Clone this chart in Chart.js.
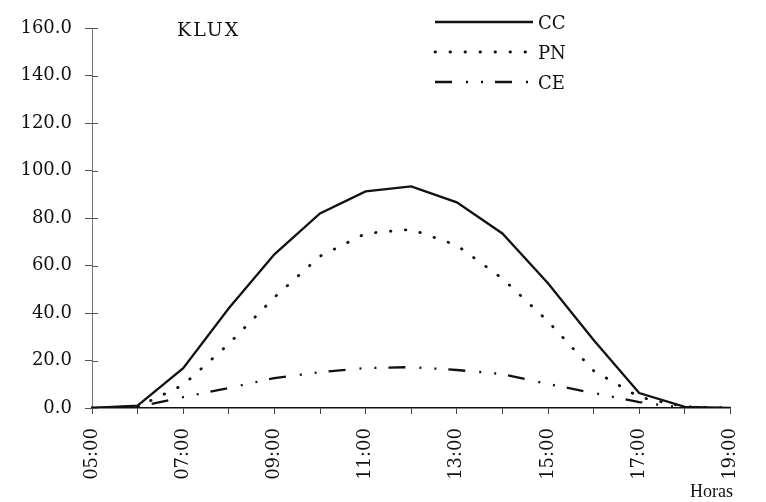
<!DOCTYPE html>
<html>
<head>
<meta charset="utf-8">
<script src="https://cdn.jsdelivr.net/npm/chart.js@4.4.1/dist/chart.umd.min.js"></script>
<style>
  html, body { margin: 0; padding: 0; background: #ffffff; }
  #wrap { width: 766px; height: 502px; position: relative; }
</style>
</head>
<body>
<div id="wrap"><canvas id="c" width="766" height="502"></canvas></div>
<script>
// ---- data ----
const hours = ["05:00","06:00","07:00","08:00","09:00","10:00","11:00","12:00","13:00","14:00","15:00","16:00","17:00","18:00","19:00"];
const ccValues = [0, 1, 16.8, 42, 64.7, 81.9, 91.2, 93.3, 86.6, 73.5, 52.5, 28.6, 6.3, 0.5, 0];
const pnValues = [0, 0.5, 9.7, 27, 46.6, 63.9, 73.5, 75.2, 68.5, 54.5, 36.5, 15.7, 4.6, 0.5, 0];
const ceValues = [0, 0.5, 4.6, 8.4, 12.6, 15.1, 16.8, 17.2, 16.0, 14.3, 10.1, 6.3, 2.5, 0, 0];
const seriesNames = ["CC", "PN", "CE"];
const yTicks = [0, 20, 40, 60, 80, 100, 120, 140, 160];
const unitLabel = "KLUX";
const xAxisLabel = "Horas";

const INK = "#111111";
const dashes = { CC: [], PN: [0.5, 14.5], CE: [17, 14, 2, 13, 2, 12] };
const caps = { CC: "butt", PN: "round", CE: "butt" };
const widths = { CC: 2.3, PN: 2.8, CE: 2.3 };

const tickFont = { family: "'DejaVu Serif', serif", size: 18 };

const decor = {
  id: "decor",
  afterDraw(chart) {
    const ctx = chart.ctx;
    const ys = chart.scales.y;
    const area = chart.chartArea;
    ctx.save();
    // right half of the "+" tick marks on the y axis
    ctx.strokeStyle = "#555";
    ctx.lineWidth = 1;
    yTicks.forEach(v => {
      const py = Math.round(ys.getPixelForValue(v)) + 0.5;
      ctx.beginPath();
      ctx.moveTo(area.left, py);
      ctx.lineTo(area.left + 6, py);
      ctx.stroke();
    });
    // unit label
    ctx.fillStyle = INK;
    ctx.font = "19px 'DejaVu Serif', serif";
    ctx.textBaseline = "middle";
    ctx.textAlign = "left";
    try { ctx.letterSpacing = "2px"; } catch (e) {}
    ctx.fillText(unitLabel, 177, 31);
    try { ctx.letterSpacing = "0px"; } catch (e) {}
    // axis name
    ctx.font = "18px 'Liberation Serif', serif";
    ctx.fillText(xAxisLabel, 690, 492);
    // legend
    const legendY = [22, 52, 82];
    chart.data.datasets.forEach((ds, i) => {
      ctx.save();
      ctx.strokeStyle = ds.borderColor;
      ctx.lineWidth = ds.borderWidth;
      ctx.lineCap = ds.borderCapStyle || "butt";
      ctx.setLineDash(ds.borderDash || []);
      ctx.beginPath();
      ctx.moveTo(435, legendY[i]);
      ctx.lineTo(533, legendY[i]);
      ctx.stroke();
      ctx.restore();
      ctx.fillStyle = INK;
      ctx.font = "18px 'DejaVu Serif', serif";
      ctx.textBaseline = "middle";
      ctx.textAlign = "left";
      ctx.fillText(ds.label, 538, legendY[i] + 2);
    });
    ctx.restore();
  }
};

const makeDs = (name, values) => ({
  label: name,
  data: values,
  borderColor: INK,
  backgroundColor: INK,
  borderWidth: widths[name],
  borderDash: dashes[name],
  borderCapStyle: caps[name],
  pointRadius: 0,
  tension: 0,
  fill: false
});

new Chart(document.getElementById("c"), {
  type: "line",
  data: {
    labels: hours,
    datasets: [
      makeDs(seriesNames[0], ccValues),
      makeDs(seriesNames[1], pnValues),
      makeDs(seriesNames[2], ceValues)
    ]
  },
  options: {
    responsive: false,
    animation: false,
    devicePixelRatio: 1,
    layout: { padding: { top: 28, right: 35, bottom: 0, left: 0 } },
    plugins: { legend: { display: false }, tooltip: { enabled: false }, title: { display: false } },
    scales: {
      x: {
        type: "category",
        offset: false,
        border: { display: true, color: INK, width: 1.5 },
        grid: { drawOnChartArea: false, drawTicks: true, tickLength: 6, tickColor: "#444", lineWidth: 1 },
        ticks: {
          autoSkip: false,
          minRotation: 90,
          maxRotation: 90,
          padding: 14,
          color: INK,
          font: tickFont,
          callback: (v, i) => (i % 2 === 0 ? hours[i] : "")
        },
        afterFit: s => { s.height = 94; }
      },
      y: {
        min: 0,
        max: 160,
        border: { display: true, color: "#777", width: 1 },
        grid: { drawOnChartArea: false, drawTicks: true, tickLength: 7, tickColor: "#555" },
        afterBuildTicks: s => { s.ticks = yTicks.map(v => ({ value: v })); },
        ticks: {
          padding: 13,
          color: INK,
          font: tickFont,
          callback: v => Number(v).toFixed(1)
        },
        afterFit: s => { s.width = 92; }
      }
    }
  },
  plugins: [decor]
});
</script>
</body>
</html>
